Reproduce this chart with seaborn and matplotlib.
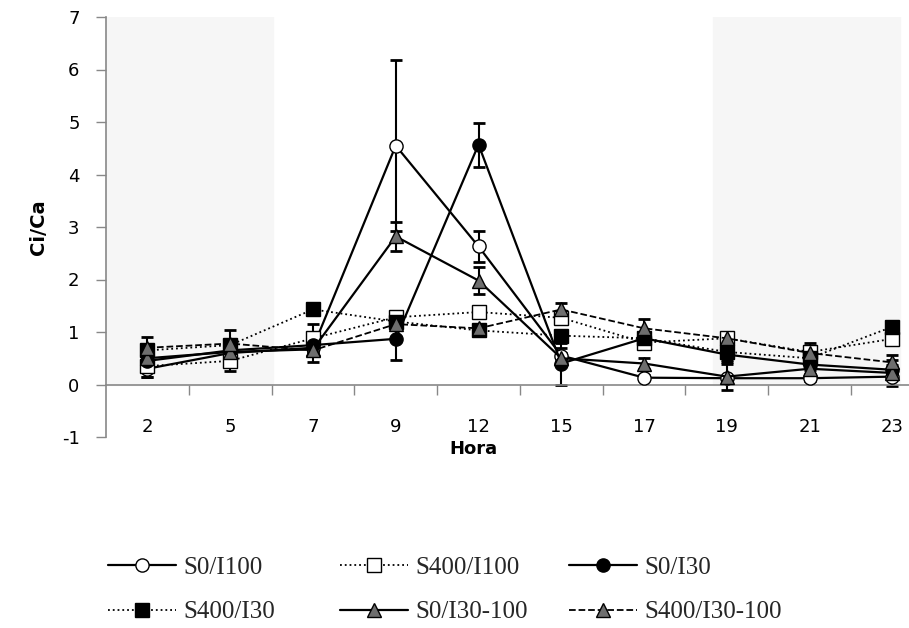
import numpy as np
import pandas as pd
import seaborn as sns
import matplotlib.pyplot as plt

horas = ['2', '5', '7', '9', '12', '15', '17', '19', '21', '23']

s0_i100 = [0.30, 0.60, 0.70, 4.55, 2.63, 0.55, 0.13, 0.12, 0.12, 0.15]
s0_i100_err = [0.15, 0.10, 0.10, 1.63, 0.30, 0.15, 0.05, 0.05, 0.05, 0.05]
s400_i100 = [0.35, 0.45, 0.88, 1.28, 1.38, 1.27, 0.80, 0.88, 0.62, 0.87]
s400_i100_err = [0.20, 0.20, 0.28, 0.10, 0.10, 0.10, 0.10, 0.10, 0.10, 0.10]
s0_i30 = [0.45, 0.65, 0.75, 0.87, 4.57, 0.40, 0.88, 0.57, 0.38, 0.28]
s0_i30_err = [0.10, 0.10, 0.10, 0.40, 0.42, 0.40, 0.10, 0.10, 0.10, 0.10]
s400_i30 = [0.65, 0.75, 1.43, 1.20, 1.03, 0.93, 0.88, 0.62, 0.50, 1.10]
s400_i30_err = [0.10, 0.10, 0.10, 0.10, 0.05, 0.10, 0.10, 0.20, 0.15, 0.10]
s0_i30_100 = [0.50, 0.62, 0.67, 2.82, 1.98, 0.50, 0.40, 0.15, 0.30, 0.22]
s0_i30_100_err = [0.10, 0.10, 0.25, 0.27, 0.25, 0.10, 0.10, 0.25, 0.10, 0.25]
s400_i30_100 = [0.70, 0.78, 0.65, 1.15, 1.07, 1.43, 1.07, 0.88, 0.60, 0.42]
s400_i30_100_err = [0.20, 0.25, 0.10, 0.10, 0.05, 0.12, 0.18, 0.08, 0.20, 0.15]

series = [
    ('S0/I100', s0_i100, s0_i100_err, 'o', 'white', '-'),
    ('S400/I100', s400_i100, s400_i100_err, 's', 'white', ':'),
    ('S0/I30', s0_i30, s0_i30_err, 'o', 'black', '-'),
    ('S400/I30', s400_i30, s400_i30_err, 's', 'black', ':'),
    ('S0/I30-100', s0_i30_100, s0_i30_100_err, '^', '#6e6e6e', '-'),
    ('S400/I30-100', s400_i30_100, s400_i30_100_err, '^', '#6e6e6e', '--'),
]

sns.set_style('white')
plt.rcParams['font.family'] = ['DejaVu Sans']
plt.rcParams['axes.unicode_minus'] = False

fig = plt.figure(figsize=(9.09, 6.28), dpi=100)
ax = fig.add_axes([106 / 909, 1 - 437 / 628, 1 - 106 / 909, (437 - 17) / 628])

pos = np.arange(len(horas))

# franjas nocturnas (solo por encima del eje en y=0)
ax.axvspan(-0.5, 1.52, ymin=0.125, ymax=1, color='#f6f6f6', zorder=0)
ax.axvspan(6.83, 9.09, ymin=0.125, ymax=1, color='#f6f6f6', zorder=0)

for name, vals, errs, mk, fc, ls in series:
    df = pd.DataFrame({'pos': pos, 'val': vals})
    sns.lineplot(data=df, x='pos', y='val', ax=ax, color='black', linestyle=ls,
                 linewidth=1.6 if ls == '-' else 1.3, marker=mk, markersize=9.5,
                 markerfacecolor=fc, markeredgecolor='black', markeredgewidth=1.0,
                 label=name, zorder=3)
    ax.errorbar(pos, vals, yerr=errs, fmt='none', ecolor='black', elinewidth=1.5,
                capsize=4.5, capthick=2, zorder=2)

h, l = ax.get_legend_handles_labels()
ax.get_legend().remove()

# leyenda en tres columnas de ancho fijo (estilo Excel)
col_x = [108 / 909, 340 / 909, 569 / 909]
for c in range(3):
    lg = fig.legend([h[c], h[c + 3]], [l[c], l[c + 3]], loc='upper left',
                    bbox_to_anchor=(col_x[c], 1 - 556 / 628), frameon=False,
                    prop={'family': 'Liberation Serif', 'size': 18},
                    handlelength=2.7, handletextpad=0.3, labelspacing=0.9,
                    borderpad=0, borderaxespad=0)

ax.set_xlim(-0.5, 9.2)
ax.set_ylim(-1, 7)
ax.set_yticks(range(-1, 8))
ax.tick_params(axis='y', labelsize=13, length=7, width=1, color='#888888',
               labelcolor='black', direction='out', left=True, pad=12)

ax.spines['bottom'].set_position(('data', 0))
ax.spines['top'].set_visible(False)
ax.spines['right'].set_visible(False)
for s in ['bottom', 'left']:
    ax.spines[s].set_color('#888888')
    ax.spines[s].set_linewidth(1.2)

ax.set_xticks(pos)
ax.set_xticklabels(horas)
ax.set_xticks(np.arange(0.5, 9, 1), minor=True)
ax.tick_params(axis='x', which='major', labelsize=13, length=0, pad=24,
               labelcolor='black')
ax.tick_params(axis='x', which='minor', length=7, width=1, color='#888888',
               direction='out', bottom=True)

ax.set_xlabel('Hora', fontsize=13, fontweight='bold', color='black')
ax.xaxis.set_label_coords(0.458, -0.008)
ax.set_ylabel('Ci/Ca', fontsize=14, fontweight='bold', color='black', labelpad=10)

fig.savefig('out.png', dpi=100)
